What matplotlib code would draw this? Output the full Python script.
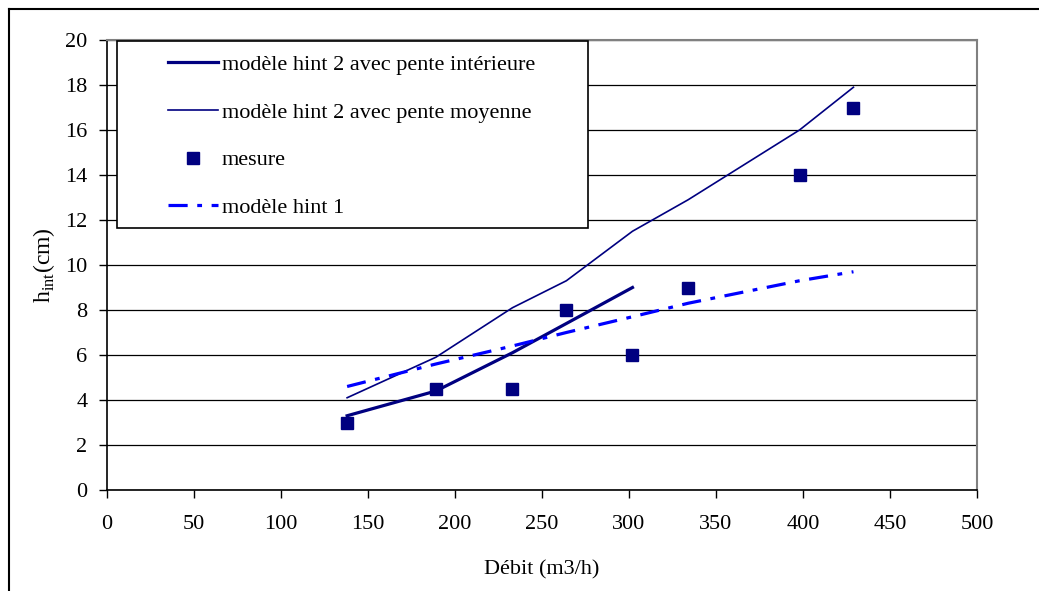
import matplotlib
matplotlib.use("Agg")
import matplotlib.pyplot as plt
from matplotlib.lines import Line2D
from matplotlib.patches import Rectangle

plt.rcParams['font.family'] = ['Liberation Serif', 'DejaVu Serif']
plt.rcParams['mathtext.fontset'] = 'custom'
plt.rcParams['mathtext.rm'] = 'Liberation Serif'

# données
debit_mesure = [138, 189, 233, 264, 302, 334, 398, 429]
h_mesure = [3.0, 4.5, 4.5, 8.0, 6.0, 9.0, 14.0, 17.0]

debit_int = [138, 189, 233, 264, 302]
h_pente_int = [3.3, 4.4, 6.1, 7.4, 9.0]

debit_moy = [138, 189, 233, 264, 302, 334, 398, 429]
h_pente_moy = [4.1, 5.9, 8.1, 9.3, 11.5, 12.9, 16.0, 17.9]

debit_h1 = [138, 189, 233, 264, 302, 334, 398, 429]
h_hint1 = [4.6, 5.6, 6.4, 7.0, 7.7, 8.3, 9.3, 9.7]

x_ticks = [0, 50, 100, 150, 200, 250, 300, 350, 400, 450, 500]
y_ticks = [0, 2, 4, 6, 8, 10, 12, 14, 16, 18, 20]

fig = plt.figure(figsize=(10.39, 5.91), dpi=100)
ax = fig.add_axes([107 / 1039, 101 / 591, 870 / 1039, 450 / 591])

ax.plot(debit_int, h_pente_int, color='#000080', lw=2.3,
        label='modèle hint 2 avec pente intérieure', zorder=3)
ax.plot(debit_moy, h_pente_moy, color='#000080', lw=1.2,
        label='modèle hint 2 avec pente moyenne', zorder=3)
ax.plot(debit_mesure, h_mesure, ls='none', marker='s', ms=8,
        color='#000080', label='mesure', zorder=4)
ax.plot(debit_h1, h_hint1, color='#0000FF', lw=2.3, dashes=(6, 3, 1.5, 3),
        label='modèle hint 1', zorder=3)

ax.set_xlim(0, 500)
ax.set_ylim(0, 20)
ax.set_xticks(x_ticks)
ax.set_yticks(y_ticks)
ax.yaxis.grid(True, color='black', lw=0.9)
ax.set_axisbelow(True)
ax.tick_params(direction='out', length=6, width=1, labelsize=16)
ax.tick_params(axis='x', pad=12)
ax.tick_params(axis='y', pad=8)

for s in ['top', 'right']:
    ax.spines[s].set_color('#808080')
    ax.spines[s].set_linewidth(1.5)
for s in ['left', 'bottom']:
    ax.spines[s].set_color('black')
    ax.spines[s].set_linewidth(1.2)

ax.set_xlabel('Débit (m3/h)', fontsize=16, labelpad=19)
ax.set_ylabel(r'h$_{\mathrm{int}}$(cm)', fontsize=17, labelpad=6)

# cadre de la légende
ax.add_patch(Rectangle((0.0115, 0.582), 0.541, 0.4165, transform=ax.transAxes,
                       facecolor='white', edgecolor='black', lw=1.2, zorder=5))
leg = ax.legend(loc='upper left', bbox_to_anchor=(0.07, 0.968), frameon=False,
                fontsize=16, borderpad=0, borderaxespad=0, handlelength=2.25,
                handletextpad=0.18, labelspacing=1.22)
leg.set_zorder(6)

# cadre extérieur
fig.add_artist(Line2D([9 / 1039, 1], [1 - 9 / 591, 1 - 9 / 591], color='black', lw=1.5))
fig.add_artist(Line2D([9 / 1039, 9 / 1039], [0, 1 - 9 / 591], color='black', lw=1.5))

fig.savefig('out.png', dpi=100)
